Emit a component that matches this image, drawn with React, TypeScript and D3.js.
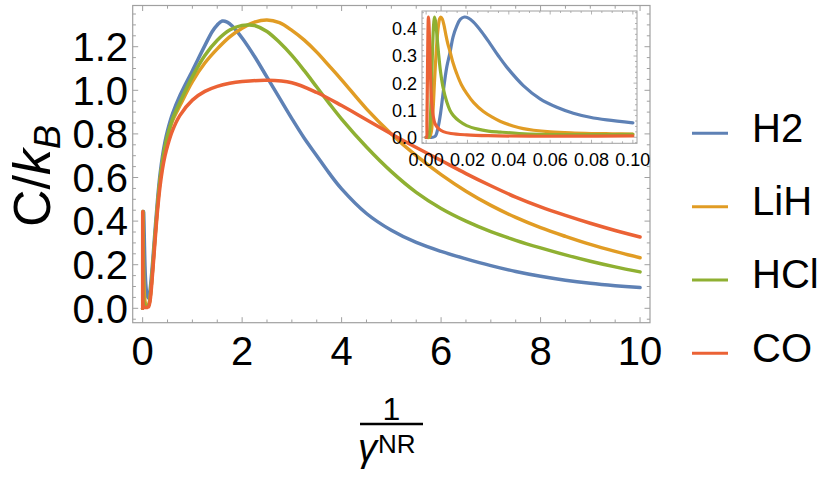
import React from 'react';
import * as d3 from 'd3';

type Pt = [number, number];

const seriesNames = ['H2', 'LiH', 'HCl', 'CO'];
const seriesColors = ['#5E81B5', '#E19C24', '#8FB032', '#EB6235'];

const h2Data: Pt[] = [
  [0, 0], [0.003, 0], [0.0045, 0.005], [0.006, 0.045], [0.007, 0.09], [0.008, 0.15], [0.009, 0.21],
  [0.01, 0.26], [0.0116, 0.315], [0.013, 0.37], [0.0148, 0.41], [0.0165, 0.435], [0.0185, 0.444],
  [0.0205, 0.44], [0.0228, 0.426], [0.0269, 0.389], [0.0309, 0.346], [0.035, 0.3], [0.039, 0.259],
  [0.047, 0.191], [0.0551, 0.142], [0.0632, 0.111], [0.0712, 0.089], [0.0793, 0.074], [0.0874, 0.064],
  [0.1, 0.053], [0.115, 0.047], [0.13, 0.055], [0.15, 0.085], [0.2, 0.21], [0.25, 0.36], [0.3, 0.5],
  [0.35, 0.615], [0.4, 0.7], [0.45, 0.765], [0.5, 0.815], [0.6, 0.892], [0.75, 0.976],
  [1.0, 1.09], [1.25, 1.205], [1.4, 1.27], [1.5, 1.3], [1.6, 1.318],
  [1.7, 1.313], [1.8, 1.295], [2.0, 1.24], [2.25, 1.155], [2.5, 1.06], [2.75, 0.965], [3.0, 0.87],
  [3.25, 0.78], [3.5, 0.7], [3.75, 0.62], [4.0, 0.548], [4.5, 0.435], [5.0, 0.358], [5.5, 0.302],
  [6.0, 0.261], [6.5, 0.227], [7.0, 0.196], [7.5, 0.169], [8.0, 0.147], [8.5, 0.129], [9.0, 0.115],
  [9.5, 0.104], [10, 0.095],
];

const lihData: Pt[] = [
  [0, 0], [0.0015, 0], [0.0025, 0.02], [0.003, 0.06], [0.0035, 0.12], [0.004, 0.2], [0.0045, 0.27],
  [0.005, 0.33], [0.0055, 0.38], [0.006, 0.415], [0.0065, 0.437], [0.0071, 0.444], [0.0078, 0.437],
  [0.0086, 0.415], [0.0095, 0.38], [0.0105, 0.345], [0.0116, 0.315], [0.013, 0.275], [0.0148, 0.235],
  [0.017, 0.195], [0.0196, 0.162], [0.023, 0.128], [0.0277, 0.095], [0.032, 0.074], [0.036, 0.058],
  [0.042, 0.042], [0.047, 0.032], [0.052, 0.026], [0.06, 0.02], [0.07, 0.016], [0.08, 0.014],
  [0.09, 0.013], [0.1, 0.012], [0.12, 0.014], [0.15, 0.05], [0.2, 0.18], [0.25, 0.33],
  [0.3, 0.47], [0.35, 0.585], [0.4, 0.67], [0.45, 0.735], [0.5, 0.785], [0.6, 0.86],
  [0.75, 0.93], [1.0, 1.04], [1.25, 1.125], [1.5, 1.19], [1.75, 1.245], [2.0, 1.285],
  [2.25, 1.313], [2.5, 1.323], [2.75, 1.31], [3.0, 1.275], [3.25, 1.23], [3.5, 1.175], [3.75, 1.112],
  [4.0, 1.048], [4.5, 0.915], [5.0, 0.8], [5.5, 0.7], [6.0, 0.613], [6.5, 0.537], [7.0, 0.472],
  [7.5, 0.417], [8.0, 0.37], [8.5, 0.33], [9.0, 0.293], [9.5, 0.261], [10, 0.232],
];

const hclData: Pt[] = [
  [0, 0], [0.001, 0], [0.0015, 0.01], [0.002, 0.06], [0.0025, 0.17], [0.003, 0.3], [0.0035, 0.4],
  [0.004, 0.444], [0.0045, 0.43], [0.005, 0.395], [0.006, 0.31], [0.007, 0.24], [0.0083, 0.18],
  [0.01, 0.13], [0.0115, 0.1], [0.0132, 0.08], [0.016, 0.06], [0.0196, 0.043], [0.025, 0.03],
  [0.03, 0.023], [0.036, 0.019], [0.045, 0.014], [0.055, 0.011], [0.07, 0.01], [0.085, 0.01],
  [0.1, 0.011], [0.12, 0.014], [0.15, 0.05], [0.2, 0.18], [0.25, 0.335], [0.3, 0.475],
  [0.35, 0.59], [0.4, 0.677], [0.45, 0.742], [0.5, 0.792], [0.6, 0.868], [0.75, 0.945],
  [1.0, 1.063], [1.25, 1.16], [1.5, 1.23], [1.75, 1.277], [2.0, 1.298], [2.13, 1.3],
  [2.25, 1.297], [2.5, 1.27], [2.75, 1.22], [3.0, 1.16], [3.25, 1.09], [3.5, 1.015], [3.75, 0.94],
  [4.0, 0.868], [4.5, 0.74], [5.0, 0.627], [5.5, 0.532], [6.0, 0.458], [6.5, 0.4], [7.0, 0.352],
  [7.5, 0.312], [8.0, 0.277], [8.5, 0.245], [9.0, 0.216], [9.5, 0.19], [10, 0.167],
];

const coData: Pt[] = [
  [0, 0], [0.0002, 0], [0.0004, 0.06], [0.0006, 0.2], [0.0008, 0.34], [0.001, 0.43], [0.0011, 0.444],
  [0.0013, 0.43], [0.0016, 0.37], [0.002, 0.26], [0.0024, 0.17], [0.0028, 0.12], [0.0035, 0.075],
  [0.0043, 0.05], [0.006, 0.032], [0.0083, 0.021], [0.012, 0.014], [0.0196, 0.009], [0.03, 0.006],
  [0.05, 0.004], [0.07, 0.004], [0.1, 0.005], [0.12, 0.007], [0.15, 0.035],
  [0.2, 0.16], [0.25, 0.31], [0.3, 0.45], [0.35, 0.56], [0.4, 0.64], [0.45, 0.7], [0.5, 0.745],
  [0.6, 0.815], [0.75, 0.885], [1.0, 0.955], [1.25, 0.995], [1.5, 1.018],
  [1.75, 1.032], [2.0, 1.04], [2.5, 1.046], [3.0, 1.035], [3.5, 0.99], [4.0, 0.93], [4.5, 0.865],
  [5.0, 0.8], [5.5, 0.738], [6.0, 0.678], [6.5, 0.618], [7.0, 0.562], [7.5, 0.51], [8.0, 0.465],
  [8.5, 0.426], [9.0, 0.39], [9.5, 0.357], [10, 0.327],
];

const seriesData = [h2Data, lihData, hclData, coData];

const xTicks = [0, 2, 4, 6, 8, 10];
const xTickLabels = ['0', '2', '4', '6', '8', '10'];
const yTicks = [0, 0.2, 0.4, 0.6, 0.8, 1.0, 1.2];
const yTickLabels = ['0.0', '0.2', '0.4', '0.6', '0.8', '1.0', '1.2'];
const insetXTicks = [0, 0.02, 0.04, 0.06, 0.08, 0.1];
const insetXTickLabels = ['0.00', '0.02', '0.04', '0.06', '0.08', '0.10'];
const insetYTicks = [0, 0.1, 0.2, 0.3, 0.4];
const insetYTickLabels = ['0.0', '0.1', '0.2', '0.3', '0.4'];

const FONT = '"Liberation Sans", Arial, Helvetica, sans-serif';
const FRAME = '#a0a0a0';

function range(a: number, b: number, step: number) {
  const out: number[] = [];
  const n = Math.round((b - a) / step);
  for (let i = 0; i <= n; i++) out.push(+(a + i * step).toFixed(6));
  return out;
}

export default function App() {
  // main plot
  const mL = 132.7, mR = 650, mT = 5.5, mB = 322.7;
  const x = d3.scaleLinear().domain([-0.2, 10.2]).range([mL, mR]);
  const y = d3.scaleLinear().domain([-0.066, 1.389]).range([mB, mT]);
  const line = d3.line<Pt>().x((d) => x(d[0])).y((d) => y(d[1])).curve(d3.curveCatmullRom.alpha(0.5));

  // inset
  const iL = 422, iR = 637, iT = 11, iB = 143.3;
  const ix = d3.scaleLinear().domain([-0.002, 0.102]).range([iL, iR]);
  const iy = d3.scaleLinear().domain([-0.0222, 0.4662]).range([iB, iT]);
  const iline = d3.line<Pt>().x((d) => ix(d[0])).y((d) => iy(d[1])).curve(d3.curveCatmullRom.alpha(0.5));

  const xMinor = range(0, 10, 0.5).filter((v) => !xTicks.includes(v));
  const yMinor = range(-0.05, 1.35, 0.05).filter((v) => !yTicks.some((t) => Math.abs(t - v) < 1e-6));
  const ixMinor = range(0, 0.1, 0.005).filter((v) => !insetXTicks.some((t) => Math.abs(t - v) < 1e-9));
  const iyMinor = range(-0.02, 0.46, 0.02).filter((v) => !insetYTicks.some((t) => Math.abs(t - v) < 1e-9));

  const legendY = [133.3, 206.7, 280, 353.3];

  return (
    <svg width={830} height={483} style={{ position: 'absolute', left: 0, top: 0, background: '#fff' }}
      fontFamily={FONT}>
      <defs>
        <clipPath id="mainClip"><rect x={mL} y={mT} width={mR - mL} height={mB - mT} /></clipPath>
        <clipPath id="insetClip"><rect x={iL} y={iT} width={iR - iL} height={iB - iT} /></clipPath>
      </defs>
      <rect x={0} y={0} width={830} height={483} fill="#fff" />

      {/* main curves */}
      <g clipPath="url(#mainClip)">
        {seriesData.map((s, i) => (
          <path key={i} d={line(s) || ''} fill="none" stroke={seriesColors[i]} strokeWidth={3.5}
            strokeLinejoin="round" strokeLinecap="round" />
        ))}
      </g>

      {/* main frame */}
      <rect x={mL} y={mT} width={mR - mL} height={mB - mT} fill="none" stroke={FRAME} strokeWidth={1.2} />
      {xTicks.map((t) => (
        <g key={'xt' + t} stroke={FRAME} strokeWidth={1}>
          <line x1={x(t)} x2={x(t)} y1={mB} y2={mB - 5.5} />
          <line x1={x(t)} x2={x(t)} y1={mT} y2={mT + 5.5} />
        </g>
      ))}
      {xMinor.map((t) => (
        <g key={'xm' + t} stroke={FRAME} strokeWidth={1}>
          <line x1={x(t)} x2={x(t)} y1={mB} y2={mB - 3.2} />
          <line x1={x(t)} x2={x(t)} y1={mT} y2={mT + 3.2} />
        </g>
      ))}
      {yTicks.map((t) => (
        <g key={'yt' + t} stroke={FRAME} strokeWidth={1}>
          <line x1={mL} x2={mL + 5.5} y1={y(t)} y2={y(t)} />
          <line x1={mR} x2={mR - 5.5} y1={y(t)} y2={y(t)} />
        </g>
      ))}
      {yMinor.map((t) => (
        <g key={'ym' + t} stroke={FRAME} strokeWidth={1}>
          <line x1={mL} x2={mL + 3.2} y1={y(t)} y2={y(t)} />
          <line x1={mR} x2={mR - 3.2} y1={y(t)} y2={y(t)} />
        </g>
      ))}
      {xTicks.map((t, i) => (
        <text key={'xl' + t} x={x(t)} y={365} fontSize={40} textAnchor="middle" fill="#000">{xTickLabels[i]}</text>
      ))}
      {yTicks.map((t, i) => (
        <text key={'yl' + t} x={128} y={y(t) + 14.3} fontSize={40} textAnchor="end" fill="#000">{yTickLabels[i]}</text>
      ))}

      {/* y axis label */}
      <text transform="translate(50,176) rotate(-90)" fontSize={52} textAnchor="middle" fill="#000">
        C/<tspan fontStyle="italic">k</tspan><tspan fontStyle="italic" fontSize={36} dy={10}>B</tspan>
      </text>

      {/* x axis label: 1 / gamma^NR */}
      <text x={391.5} y={420} fontSize={32} textAnchor="middle" fill="#000">1</text>
      <line x1={360} x2={423} y1={424} y2={424} stroke="#000" strokeWidth={2.4} />
      <text x={358} y={461} fontSize={38} fill="#000">
        <tspan fontStyle="italic">γ</tspan><tspan fontSize={26} dy={-8} dx={1}>NR</tspan>
      </text>

      {/* inset */}
      <rect x={iL} y={iT} width={iR - iL} height={iB - iT} fill="#fff" />
      <g clipPath="url(#insetClip)">
        {seriesData.map((s, i) => (
          <path key={'i' + i} d={iline(s.filter((d) => d[0] <= 0.1)) || ''} fill="none" stroke={seriesColors[i]}
            strokeWidth={3.2} strokeLinejoin="round" strokeLinecap="round" />
        ))}
      </g>
      <rect x={iL} y={iT} width={iR - iL} height={iB - iT} fill="none" stroke={FRAME} strokeWidth={1} />
      {insetXTicks.map((t) => (
        <g key={'ixt' + t} stroke={FRAME} strokeWidth={0.8}>
          <line x1={ix(t)} x2={ix(t)} y1={iB} y2={iB - 3.5} />
          <line x1={ix(t)} x2={ix(t)} y1={iT} y2={iT + 3.5} />
        </g>
      ))}
      {ixMinor.map((t) => (
        <g key={'ixm' + t} stroke={FRAME} strokeWidth={0.8}>
          <line x1={ix(t)} x2={ix(t)} y1={iB} y2={iB - 2} />
          <line x1={ix(t)} x2={ix(t)} y1={iT} y2={iT + 2} />
        </g>
      ))}
      {insetYTicks.map((t) => (
        <g key={'iyt' + t} stroke={FRAME} strokeWidth={0.8}>
          <line x1={iL} x2={iL + 3.5} y1={iy(t)} y2={iy(t)} />
          <line x1={iR} x2={iR - 3.5} y1={iy(t)} y2={iy(t)} />
        </g>
      ))}
      {iyMinor.map((t) => (
        <g key={'iym' + t} stroke={FRAME} strokeWidth={0.8}>
          <line x1={iL} x2={iL + 2} y1={iy(t)} y2={iy(t)} />
          <line x1={iR} x2={iR - 2} y1={iy(t)} y2={iy(t)} />
        </g>
      ))}
      {insetXTicks.map((t, i) => (
        <text key={'ixl' + t} x={ix(t)} y={166} fontSize={18} textAnchor="middle" fill="#000">{insetXTickLabels[i]}</text>
      ))}
      {insetYTicks.map((t, i) => (
        <text key={'iyl' + t} x={417} y={iy(t) + 6.4} fontSize={18} textAnchor="end" fill="#000">{insetYTickLabels[i]}</text>
      ))}

      {/* legend */}
      {seriesNames.map((n, i) => (
        <g key={'lg' + n}>
          <line x1={692} x2={728} y1={legendY[i]} y2={legendY[i]} stroke={seriesColors[i]} strokeWidth={3} />
          <text x={752} y={legendY[i] + 8.4} fontSize={40} fill="#000">{n}</text>
        </g>
      ))}
    </svg>
  );
}
